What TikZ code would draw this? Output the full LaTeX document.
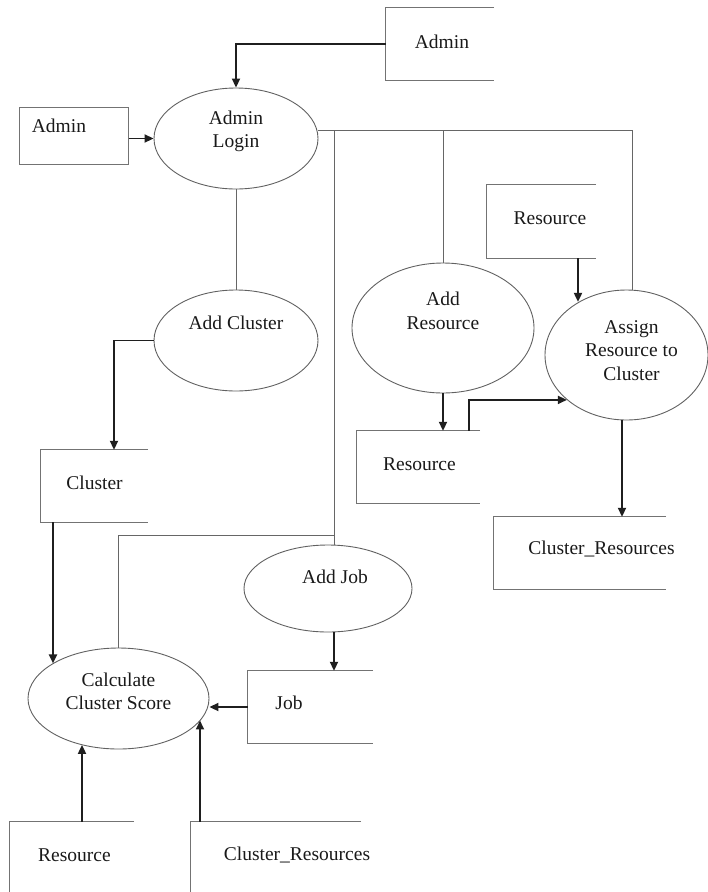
\documentclass[tikz,border=0pt]{standalone}
\usepackage{fontspec}
\setmainfont{Liberation Serif}
\usetikzlibrary{shapes.geometric,arrows.meta}
\begin{document}
\begin{tikzpicture}[x=1pt,y=-1pt,
  proc/.style={ellipse, draw=black!62, line width=0.9pt, inner sep=0pt},
  store/.style={rectangle, inner sep=0pt},
  side/.style={draw=black!55, line width=1.3pt},
  lnk/.style={draw=black!60, line width=1pt},
  arr/.style={draw=black!88, line width=1.9pt, -{Triangle[length=9pt,width=8pt]}},
  every label/.style={align=center, text=black!90, font=\fontsize{19.5}{23.5}\selectfont, inner sep=0pt}]
\useasboundingbox (0,0) rectangle (708,892);
% ---------- processes ----------
\node[proc, minimum width=164pt, minimum height=101pt,
  label={[yshift=7pt]center:Admin\\Login}] (login) at (236,138.5) {};
\node[proc, minimum width=164pt, minimum height=101pt,
  label={[yshift=17.5pt]center:Add Cluster}] (addcluster) at (236,340.5) {};
\node[proc, minimum width=182pt, minimum height=130pt,
  label={[yshift=17pt]center:Add\\Resource}] (addres) at (443,328) {};
\node[proc, minimum width=163pt, minimum height=130pt,
  label={[xshift=5pt,yshift=4.5pt]center:Assign\\Resource to\\Cluster}] (assign) at (626.5,355) {};
\node[proc, minimum width=168pt, minimum height=87pt,
  label={[xshift=7pt,yshift=11.5pt]center:Add Job}] (addjob) at (328,588.5) {};
\node[proc, minimum width=181pt, minimum height=101pt,
  label={[yshift=7pt]center:Calculate\\Cluster Score}] (calc) at (118.5,698.5) {};
% ---------- stores ----------
\node[store, minimum width=108pt, minimum height=72pt,
  label={[xshift=2pt,yshift=2pt]center:Admin}] (adm2) at (440,44) {};
\node[store, draw=black!55, line width=1pt, minimum width=109pt, minimum height=57pt,
  label={[xshift=-14.5pt,yshift=9.5pt]center:Admin}] (adm1) at (73.5,135.5) {};
\node[store, minimum width=109pt, minimum height=73pt,
  label={[xshift=8.5pt,yshift=3.5pt]center:Resource}] (res1) at (541.5,221.5) {};
\node[store, minimum width=107pt, minimum height=72pt,
  label={[yshift=3pt]center:Cluster}] (cluster) at (94.5,486) {};
\node[store, minimum width=123pt, minimum height=72pt,
  label={[xshift=1pt,yshift=3pt]center:Resource}] (res2) at (418.5,467) {};
\node[store, minimum width=172pt, minimum height=72pt,
  label={[xshift=21.5pt,yshift=4pt]center:Cluster\_Resources}] (clres) at (580,553) {};
\node[store, minimum width=125pt, minimum height=72pt,
  label={[xshift=-21.5pt,yshift=4pt]center:Job}] (job) at (310.5,707) {};
\node[store, minimum width=124pt, minimum height=70pt,
  label={[xshift=2.5pt,yshift=2pt]center:Resource}] (res3) at (72,857) {};
\node[store, minimum width=170pt, minimum height=70pt,
  label={[xshift=21pt,yshift=2pt]center:Cluster\_Resources}] (clres2) at (276,857) {};
% open sides of the stores
\foreach \s in {adm2,res1,cluster,res2,clres,job}{
  \draw[side] (\s.north east) -- (\s.north west) -- (\s.south west) -- (\s.south east);
}
\foreach \s in {res3,clres2}{
  \draw[side] (\s.north east) -- (\s.north west) -- (\s.south west);
}
% ---------- connectors ----------
\draw[arr] (adm2.west) -| (login.north);
\draw[arr] (login.west -| adm1.east) -- (login.west);
\draw[lnk] ([yshift=8pt]login.east) coordinate (tl) -| ([xshift=5.5pt]assign.north);
\coordinate (jx) at (334,535);
\draw[lnk] (jx |- tl) -- ([xshift=6pt]addjob.north);
\draw[lnk] (jx) -| (calc.north);
\draw[lnk] (addres.north |- tl) -- (addres.north);
\draw[lnk] (login.south) -- (addcluster.north);
\draw[arr] (addcluster.west) -| ([xshift=19.5pt]cluster.north);
\draw[arr] ([xshift=-41.5pt]cluster.south) -- ([xshift=-41.5pt]cluster.south |- calc.152);
\draw[arr] (job.west) -- (job.west -| calc.east);
\draw[arr] ([xshift=10pt]res3.north) -- ([xshift=10pt]res3.north |- calc.231.7);
\draw[arr] ([xshift=-76pt]clres2.north) -- ([xshift=-76pt]clres2.north |- calc.345);
\draw[arr] (addjob.south -| jx) -- (job.north -| jx);
\draw[arr] (addres.south) -- (addres.south |- res2.north);
\draw[arr] ([xshift=50.5pt]res2.north) |- (assign.217.4);
\draw[arr] ([xshift=36.5pt]res1.south) -- ([xshift=36.5pt]res1.south |- assign.132.9);
\draw[arr] ([xshift=-4.5pt]assign.south) -- ([xshift=-4.5pt]assign.south |- clres.north);
\end{tikzpicture}
\end{document}
